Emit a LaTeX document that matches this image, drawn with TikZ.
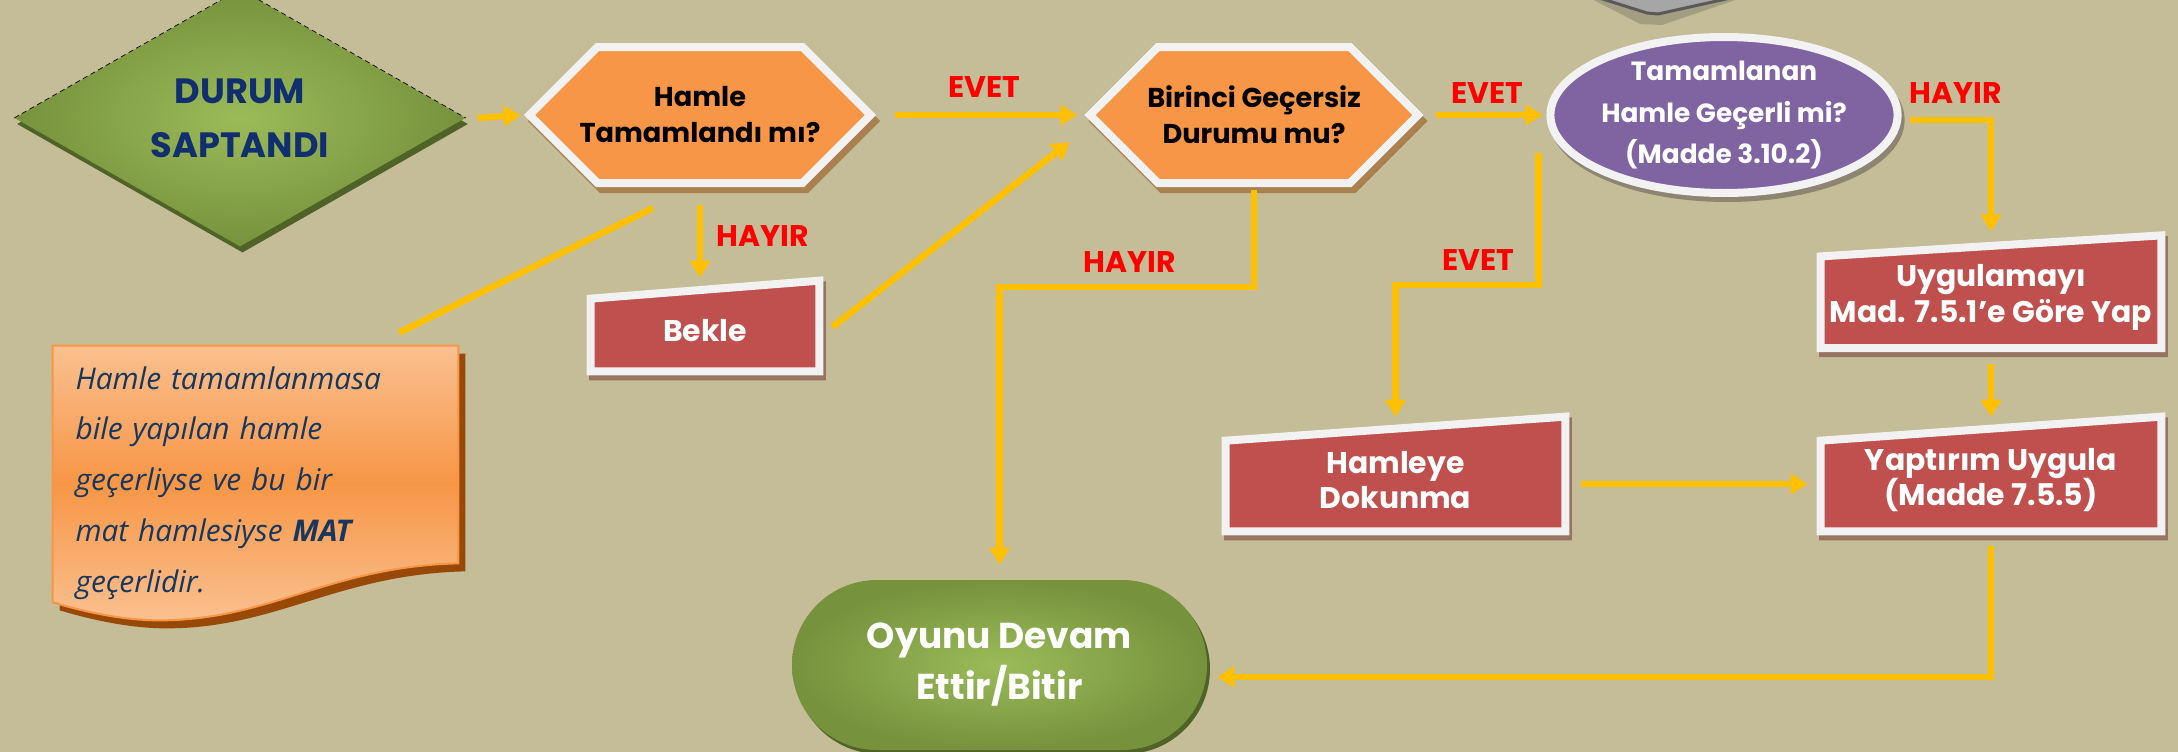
\documentclass[tikz,border=0pt]{standalone}
\usepackage{fontspec}
\newfontfamily\gothic{Poppins}
\newfontfamily\notefont{Open Sans}
\usetikzlibrary{arrows.meta, positioning, shapes.geometric, shapes.misc, shapes.symbols,
                shadows, backgrounds}
\definecolor{bgtan}{HTML}{C4BD97}
\definecolor{arrowgold}{HTML}{FFC000}
\definecolor{labelred}{HTML}{FF0000}
\definecolor{rim}{HTML}{F2F2F2}
\definecolor{hexfill}{HTML}{F79646}
\definecolor{hexshade}{HTML}{A8814F}
\definecolor{boxred}{HTML}{C0504D}
\definecolor{boxshade}{HTML}{977462}
\definecolor{qpurple}{HTML}{8064A2}
\definecolor{qshade}{HTML}{8D8572}
\definecolor{oliveLight}{HTML}{9BBB59}
\definecolor{oliveDark}{HTML}{76923C}
\definecolor{oliveShade}{HTML}{4F6228}
\definecolor{navytext}{HTML}{112F6E}
\definecolor{notetext}{HTML}{17375E}
\definecolor{notelight}{HTML}{FAC090}
\definecolor{noteshade}{HTML}{984807}
\definecolor{stoneGrey}{HTML}{A6A6A6}
\definecolor{stoneEdge}{HTML}{595959}
\definecolor{stoneShade}{HTML}{A39D82}

% slanted-top box painted behind a text node: #1 node, #2 half of the slant (cm)
\newcommand\slantbox[2]{%
  \path[boxpaint] (#1.south west) -- ([yshift=-#2 cm]#1.north west)
    -- ([yshift=#2 cm]#1.north east) -- (#1.south east) -- cycle;}

\begin{document}
\begin{tikzpicture}[
  ask/.style={signal, signal to=east and west, signal pointer angle=90, draw=rim, fill=hexfill,
              line width=0.16cm, minimum height=2.72cm, inner xsep=-1cm, inner ysep=0pt,
              align=center, font=\gothic\bfseries\fontsize{15.5}{20.5}\selectfont,
              copy shadow={shadow xshift=0.08cm, shadow yshift=-0.12cm, fill=hexshade,
                           draw=hexshade, line width=0.16cm}},
  check/.style={ellipse, draw=rim, fill=qpurple, line width=0.16cm, inner sep=0pt,
                align=center, text=white, font=\gothic\bfseries\fontsize{15}{23.5}\selectfont,
                copy shadow={shadow xshift=0.06cm, shadow yshift=-0.1cm, fill=qshade,
                             draw=qshade, line width=0.16cm}},
  act/.style={inner sep=0pt, align=center, text=white,
              font=\gothic\bfseries\fontsize{17}{20.4}\selectfont},
  boxpaint/.style={fill=boxred, draw=rim, line width=0.16cm,
                   copy shadow={shadow xshift=0.05cm, shadow yshift=-0.1cm, fill=boxshade,
                                draw=boxshade, line width=0.16cm}},
  startbox/.style={diamond, minimum width=9.02cm, minimum height=4.58cm, inner sep=0pt,
                   shade, inner color=oliveLight, outer color=oliveDark, align=center,
                   text=navytext, font=\gothic\bfseries\fontsize{20}{30.6}\selectfont,
                   copy shadow={shadow xshift=0.05cm, shadow yshift=-0.12cm,
                                fill=oliveShade, draw=none}},
  endbox/.style={rounded rectangle, minimum width=8.30cm, minimum height=3.40cm,
                 inner sep=0pt, shade, inner color=oliveLight, outer color=oliveDark,
                 align=center, text=white,
                 font=\gothic\bfseries\fontsize{20.5}{29}\selectfont,
                 copy shadow={shadow xshift=0.06cm, shadow yshift=-0.08cm,
                              fill=oliveShade, draw=none}},
  memo/.style={minimum width=8.10cm, minimum height=5.48cm, inner sep=0pt,
               text width=7.2cm, align=left, text=notetext,
               font=\notefont\itshape\fontsize{17}{28.9}\selectfont},
  memopaint/.style={top color=notelight, bottom color=notelight, middle color=hexfill,
                    draw=hexfill, line width=0.04cm,
                    copy shadow={shadow xshift=0.14cm, shadow yshift=-0.16cm,
                                 fill=noteshade, draw=none}},
  arr/.style={draw=arrowgold, line width=0.13cm, -{Triangle[length=0.34cm, width=0.4cm]}},
  link/.style={draw=arrowgold, line width=0.13cm},
  lbl/.style={text=labelred, font=\gothic\bfseries\fontsize{17}{20}\selectfont},
]
  \useasboundingbox (0,0) rectangle (43.56,-15.04);
  \begin{scope}[on background layer]
    \fill[bgtan] (0,0) rectangle (43.56,-15.04);
    % grey stone cut by the top edge
    \fill[stoneShade] (31.68,0.10) -- (32.80,-0.48) -- (33.24,-0.50) -- (35.00,0.10) -- cycle;
    \filldraw[fill=stoneGrey, draw=stoneEdge, line width=0.06cm]
      (31.80,0.10) -- (32.94,-0.26) -- (33.16,-0.28) -- (34.88,0.10);
  \end{scope}

  \node[startbox] (durum) at (4.80,-2.36) {DURUM\\SAPTANDI};
  \draw[densely dashed, black, line width=0.4pt] (durum.west) -- (durum.north) -- (durum.east);

  \node[ask, minimum width=6.82cm] (hamle) at (14.00,-2.30) {Hamle\\Tamamlandı mı?};
  \node[ask, minimum width=6.56cm] (birinci) at (25.08,-2.30) {Birinci Geçersiz\\Durumu mu?};
  \node[check, minimum width=6.72cm, minimum height=3.12cm] (gecerli) at (34.48,-2.30)
    {Tamamlanan\\Hamle Geçerli mi?\\(Madde 3.10.2)};

  \node[act, minimum width=4.56cm, minimum height=1.62cm] (bekle) at (14.10,-6.61) {Bekle};
  \node[act, minimum width=6.80cm, minimum height=2.03cm] (uygula) at (39.82,-5.94)
    {Uygulamayı\\Mad. 7.5.1’e Göre Yap};
  \node[act, minimum width=6.78cm, minimum height=2.04cm] (dokunma) at (27.91,-9.60)
    {Hamleye\\Dokunma};
  \node[act, minimum width=6.80cm, minimum height=2.04cm] (yaptirim) at (39.82,-9.60)
    {Yaptırım Uygula\\(Madde 7.5.5)};

  \node[endbox] (oyunu) at (19.99,-13.30) {Oyunu Devam\\Ettir/Bitir};

  \node[memo] (not) at (5.11,-9.66)
    {Hamle tamamlanmasa\\ bile yapılan hamle\\ geçerliyse ve bu bir\\
     mat hamlesiyse \textbf{MAT}\\ geçerlidir.};

  \begin{scope}[on background layer]
    \slantbox{bekle}{0.18}
    \slantbox{uygula}{0.21}
    \slantbox{dokunma}{0.24}
    \slantbox{yaptirim}{0.24}
    \path[memopaint] (not.north west) -- (not.north east) -- ([yshift=1.14cm]not.south east)
      .. controls +(-2.56,-0.06) and +(2.2,0) .. ([xshift=2.14cm]not.south west)
      .. controls +(-0.8,0) and +(0.54,-0.16) .. ([yshift=0.36cm]not.south west) -- cycle;
  \end{scope}

  % connectors
  \draw[arr] ([xshift=0.24cm]durum.east) -- ([xshift=-0.06cm]hamle.west);
  \draw[arr] ([xshift=0.38cm]hamle.east) -- ([xshift=-0.14cm]birinci.west);
  \draw[arr] ([xshift=0.24cm]birinci.east) -- ([xshift=-0.08cm]gecerli.west);
  \draw[arr] ([shift={(0.16,-0.1)}]gecerli.east) -| ([yshift=0.29cm]uygula.north);
  \draw[arr] ([yshift=-0.32cm]uygula.south) -- ([yshift=0.24cm]yaptirim.north);
  \draw[arr] ([shift={(-0.16,-0.76)}]gecerli.west) -- ++(0,-2.64) -| ([yshift=0.24cm]dokunma.north);
  \draw[arr] ([yshift=-0.06cm]birinci.south) -- ++(0,-1.94) -| ([yshift=0.30cm]oyunu.north);
  \draw[arr] ([yshift=-0.36cm]hamle.south) -- ([yshift=0.24cm]hamle.south |- bekle.north);
  \draw[arr] ([shift={(0.26,0.07)}]bekle.east) -- ([shift={(-0.30,-0.54)}]birinci.west);
  \draw[arr] ([shift={(0.32,-0.08)}]dokunma.east) -- ([shift={(-0.26,-0.08)}]yaptirim.west);
  \draw[arr] ([yshift=-0.30cm]yaptirim.south) |- ([shift={(0.20,-0.24)}]oyunu.east);
  \draw[link] ([shift={(2.87,0.26)}]not.north) -- ([shift={(-0.94,-0.42)}]hamle.south);

  % branch labels
  \node[lbl] (evet1) at (19.68,-1.74) {EVET};
  \node[lbl] (evet2) at (29.74,-1.86) {EVET};
  \node[lbl] (evet3) at (29.56,-5.20) {EVET};
  \node[lbl] (hayir1) at (15.26,-4.72) {HAYIR};
  \node[lbl] (hayir2) at (22.60,-5.24) {HAYIR};
  \node[lbl] (hayir3) at (39.12,-1.86) {HAYIR};
\end{tikzpicture}
\end{document}
